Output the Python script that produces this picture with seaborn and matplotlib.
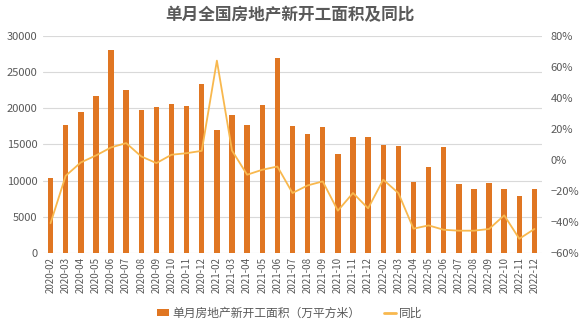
import numpy as np
import pandas as pd
import matplotlib
matplotlib.use("Agg")
import matplotlib.pyplot as plt
import seaborn as sns
from matplotlib.patches import Patch
from matplotlib.lines import Line2D
from matplotlib.ticker import FuncFormatter

months = ["2020-02", "2020-03", "2020-04", "2020-05", "2020-06", "2020-07", "2020-08",
          "2020-09", "2020-10", "2020-11", "2020-12",
          "2021-02", "2021-03", "2021-04", "2021-05", "2021-06", "2021-07", "2021-08",
          "2021-09", "2021-10", "2021-11", "2021-12",
          "2022-02", "2022-03", "2022-04", "2022-05", "2022-06", "2022-07", "2022-08",
          "2022-09", "2022-10", "2022-11", "2022-12"]
new_starts = [10400, 17700, 19500, 21700, 28000, 22500, 19800, 20200, 20600, 20300, 23300,
              17000, 19100, 17700, 20400, 26900, 17600, 16500, 17400, 13700, 16000, 16000,
              14900, 14800, 9800, 11900, 14700, 9600, 8900, 9700, 8900, 7900, 8900]
yoy = [-40.8, -10.2, -1.6, 2.9, 8.1, 10.9, 2.3, -2.0, 3.4, 4.4, 5.9,
       64.1, 6.1, -9.5, -6.3, -4.2, -21.3, -16.4, -13.8, -32.7, -21.3, -31.2,
       -12.7, -21.3, -44.3, -42.2, -45.0, -45.6, -45.6, -44.5, -35.7, -50.8, -44.5]

title = "单月全国房地产新开工面积及同比"
bar_label = "单月房地产新开工面积（万平方米）"
line_label = "同比"

BAR_C = "#E07622"
LINE_C = "#F8B84E"
TXT_C = "#595959"
GRID_C = "#D9D9D9"

sns.set_theme(style="white")
plt.rcParams["font.family"] = ["Noto Sans CJK SC", "DejaVu Sans"]

df = pd.DataFrame({"month": months, "value": new_starts, "yoy": yoy,
                   "idx": np.arange(len(months))})

fig = plt.figure(figsize=(5.8, 3.26), dpi=100)
ax = fig.add_axes([0.0741, 0.2239, 0.8604, 0.6657])

sns.barplot(data=df, x="month", y="value", color=BAR_C, width=0.36,
            saturation=1, linewidth=0, ax=ax, zorder=3)
ax.set_xlim(-0.5, len(months) - 0.5)
ax.set_ylim(0, 30000)
ax.set_yticks(np.arange(0, 30001, 5000))
ax.grid(axis="y", color=GRID_C, linewidth=0.8, zorder=0)
ax.set_axisbelow(True)
ax.set_xlabel("")
ax.set_ylabel("")
ax.tick_params(axis="x", rotation=90, labelsize=7, colors=TXT_C, length=0, pad=3)
ax.tick_params(axis="y", labelsize=8, colors=TXT_C, length=0, pad=4)
for s in ax.spines.values():
    s.set_visible(False)

ax2 = ax.twinx()
sns.lineplot(data=df, x="idx", y="yoy", color=LINE_C, linewidth=1.3, ax=ax2, zorder=4)
ax2.set_ylim(-60, 80)
ax2.set_yticks(np.arange(-60, 81, 20))
ax2.yaxis.set_major_formatter(FuncFormatter(lambda v, p: f"{int(v)}%".replace("-", "−")))
ax2.set_xlim(-0.5, len(months) - 0.5)
ax2.set_xlabel("")
ax2.set_ylabel("")
ax2.grid(False)
ax2.tick_params(axis="y", labelsize=8, colors=TXT_C, length=0, pad=6)
for s in ax2.spines.values():
    s.set_visible(False)

fig.text(0.5, 0.955, title, ha="center", va="center", fontsize=12,
         fontweight="bold", color=TXT_C)

handles = [Patch(facecolor=BAR_C, edgecolor="none"),
           Line2D([0], [0], color=LINE_C, linewidth=2)]
fig.legend(handles, [bar_label, line_label], loc="center", bbox_to_anchor=(0.5, 0.04),
           ncol=2, frameon=False, fontsize=8.5, labelcolor=TXT_C,
           handlelength=1.0, handleheight=0.6, columnspacing=2.0, handletextpad=0.3)

fig.savefig("out.png", dpi=100)
